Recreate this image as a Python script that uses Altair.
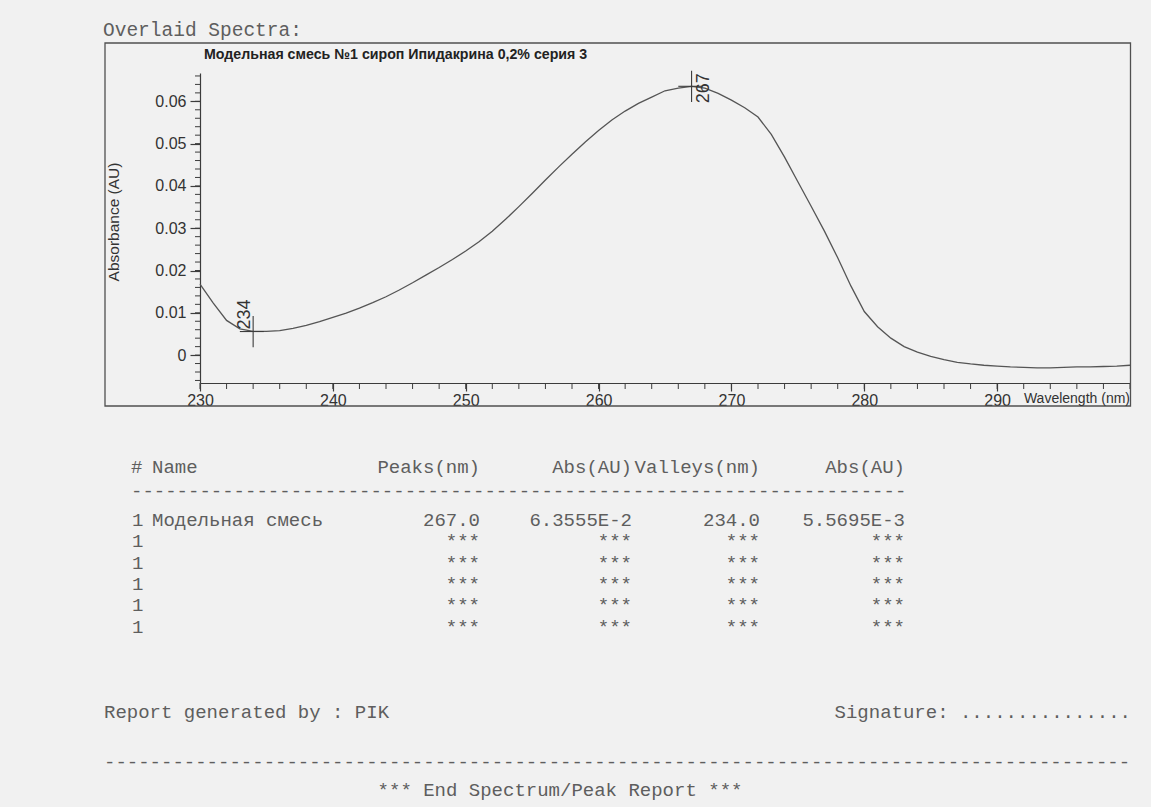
import altair as alt
import pandas as pd

# ---------------- data ----------------
wavelength = list(range(230, 301))
absorbance = [
    0.0168, 0.0123, 0.0082, 0.0062, 0.0056, 0.0056, 0.0058, 0.0063, 0.0070, 0.0079,
    0.0089, 0.0099, 0.0111, 0.0124, 0.0138, 0.0154, 0.0171, 0.0189, 0.0207, 0.0226,
    0.0246, 0.0268, 0.0293, 0.0321, 0.0351, 0.0382, 0.0414, 0.0445, 0.0475, 0.0504,
    0.0531, 0.0556, 0.0577, 0.0595, 0.0610, 0.0625, 0.0631, 0.06355, 0.0631, 0.0619,
    0.0603, 0.0585, 0.0563, 0.0522, 0.0468, 0.0410, 0.0352, 0.0293, 0.0230, 0.0163,
    0.0103, 0.0067, 0.0040, 0.0020, 0.0007, -0.0003, -0.0011, -0.0017, -0.0021, -0.0024,
    -0.0026, -0.0028, -0.0029, -0.0030, -0.0030, -0.0029, -0.0028, -0.0028, -0.0027, -0.0026,
    -0.0024,
]

peak_nm = [267.0]
peak_abs = [0.063555]
valley_nm = [234.0]
valley_abs = [0.0055695]

x_ticks = [230, 240, 250, 260, 270, 280, 290]
x_minor = list(range(230, 301, 2))
y_ticks = [0, 0.01, 0.02, 0.03, 0.04, 0.05, 0.06]
y_minor = [round(i * 0.002, 3) for i in range(-3, 34)]

sample_name = "Модельная смесь"
chart_title = "Модельная смесь №1 сироп Ипидакрина 0,2% серия 3"
table_header = ["#", "Name", "Peaks(nm)", "Abs(AU)", "Valleys(nm)", "Abs(AU)"]
row_ids = ["1", "1", "1", "1", "1", "1"]

# ---------------- layout ----------------
W, H = 930, 310
SANS = "Liberation Sans"
MONO = "Liberation Mono"
INK = "#3c3c3c"
GREY = "#5e5e5e"

spec_df = pd.DataFrame({"wl": wavelength, "a": absorbance})
pk_df = pd.DataFrame({"nm": peak_nm, "a": peak_abs})
vl_df = pd.DataFrame({"nm": valley_nm, "a": valley_abs})
one = pd.DataFrame({"k": [0]})

xs = alt.Scale(domain=[230, 300], nice=False, zero=False)
ys = alt.Scale(domain=[-0.0066, 0.0667], nice=False, zero=False)

x_axis = alt.Axis(values=x_ticks, title=None, grid=False, domainColor=INK, domainWidth=1.2,
                  tickColor=INK, tickSize=8, tickWidth=1.2, labelFont=SANS, labelFontSize=16,
                  labelColor="#333", labelPadding=1, labelFlush=False)
y_axis = alt.Axis(values=y_ticks, title=None, grid=False, domainColor=INK, domainWidth=1.2,
                  tickColor=INK, tickSize=10, tickWidth=1.2, labelFont=SANS, labelFontSize=16,
                  labelColor="#333", labelPadding=4,
                  labelExpr="datum.value == 0 ? '0' : format(datum.value, '.2f')")

line = alt.Chart(spec_df).mark_line(color="#555", strokeWidth=1.3).encode(
    x=alt.X("wl:Q", scale=xs, axis=x_axis),
    y=alt.Y("a:Q", scale=ys, axis=y_axis),
)

xminor = alt.Chart(pd.DataFrame({"wl": x_minor})).mark_rule(color=INK, strokeWidth=1).encode(
    x=alt.X("wl:Q", scale=xs, axis=x_axis), y=alt.value(H), y2=alt.value(H + 6))
yminor = alt.Chart(pd.DataFrame({"a": y_minor})).mark_rule(color=INK, strokeWidth=1).encode(
    y=alt.Y("a:Q", scale=ys, axis=y_axis), x=alt.value(-5), x2=alt.value(0))


def markers(df):
    v = alt.Chart(df).transform_calculate(lo="datum.a - 0.0037", hi="datum.a + 0.0037").mark_rule(
        color=INK, strokeWidth=1.1).encode(
        x=alt.X("nm:Q", scale=xs, axis=x_axis), y=alt.Y("lo:Q", scale=ys, axis=y_axis), y2="hi:Q")
    h = alt.Chart(df).transform_calculate(l="datum.nm - 1.0", r="datum.nm + 0.8").mark_rule(
        color=INK, strokeWidth=1.1).encode(
        x=alt.X("l:Q", scale=xs, axis=x_axis), x2="r:Q", y=alt.Y("a:Q", scale=ys, axis=y_axis))
    return v, h


pv, ph = markers(pk_df)
vv, vh = markers(vl_df)

pk_lab = alt.Chart(pk_df).transform_calculate(lab="format(datum.nm, 'd')").mark_text(
    angle=270, align="center", baseline="top", dy=3, dx=-2, font=SANS, fontSize=18, color="#333").encode(
    x=alt.X("nm:Q", scale=xs, axis=x_axis), y=alt.Y("a:Q", scale=ys, axis=y_axis), text="lab:N")
vl_lab = alt.Chart(vl_df).transform_calculate(lab="format(datum.nm, 'd')").mark_text(
    angle=270, align="left", baseline="alphabetic", dy=-3, dx=2, font=SANS, fontSize=18, color="#333").encode(
    x=alt.X("nm:Q", scale=xs, axis=x_axis), y=alt.Y("a:Q", scale=ys, axis=y_axis), text="lab:N")


def txt(s, x, y, size=19, align="left", font=MONO, color=GREY, weight="normal", angle=0):
    return alt.Chart(one).mark_text(text=s, align=align, baseline="middle", font=font, fontSize=size,
                                    color=color, fontWeight=weight, angle=angle).encode(
        x=alt.value(x), y=alt.value(y))


frame = alt.Chart(one).mark_rect(filled=False, stroke="#505050", strokeWidth=1.3).encode(
    x=alt.value(-95), x2=alt.value(930.5), y=alt.value(-30), y2=alt.value(333))

texts = [
    txt("Overlaid Spectra:", -97, -43, size=19.5),
    txt(chart_title, 4, -18, size=14.2, font=SANS, color="#222", weight="bold"),
    txt("Absorbance (AU)", -86, 149, size=15.5, font=SANS, color="#333", align="center", angle=270),
    txt("Wavelength (nm)", 930, 326, size=14, font=SANS, color="#333", align="right"),
]

# table
col_right = [280, 432, 560, 705]
hy = 394
texts += [txt(table_header[0], -69, hy), txt(table_header[1], -48, hy)]
for t, cx in zip(table_header[2:], col_right):
    texts.append(txt(t, cx, hy, align="right"))
texts.append(txt("-" * 68, -69, 418))

row1 = [f"{peak_nm[0]:.1f}", f"{peak_abs[0]:.4E}".replace("E-0", "E-"),
        f"{valley_nm[0]:.1f}", f"{valley_abs[0]:.4E}".replace("E-0", "E-")]
for i, rid in enumerate(row_ids):
    ry = 447 + 21.3 * i
    texts.append(txt(rid, -68, ry))
    if i == 0:
        texts.append(txt(sample_name, -48, ry))
        vals = row1
    else:
        vals = ["***"] * 4
    for v, cx in zip(vals, col_right):
        texts.append(txt(v, cx, ry, align="right"))

texts += [
    txt("Report generated by : PIK", -96, 639),
    txt("Signature: ...............", 931, 639, align="right"),
    txt("-" * 90, -96, 689),
    txt("*** End Spectrum/Peak Report ***", 360, 717, align="center"),
]

chart = alt.layer(line, xminor, yminor, pv, ph, vv, vh, pk_lab, vl_lab, frame, *texts).properties(
    width=W, height=H,
    autosize=alt.AutoSizeParams(type="none"),
    padding={"left": 200, "top": 73, "right": 21, "bottom": 424},
    background="#f1f1f1",
).configure_view(stroke=None)

chart.save("out.html", embed_options={"renderer": "svg", "actions": False})
